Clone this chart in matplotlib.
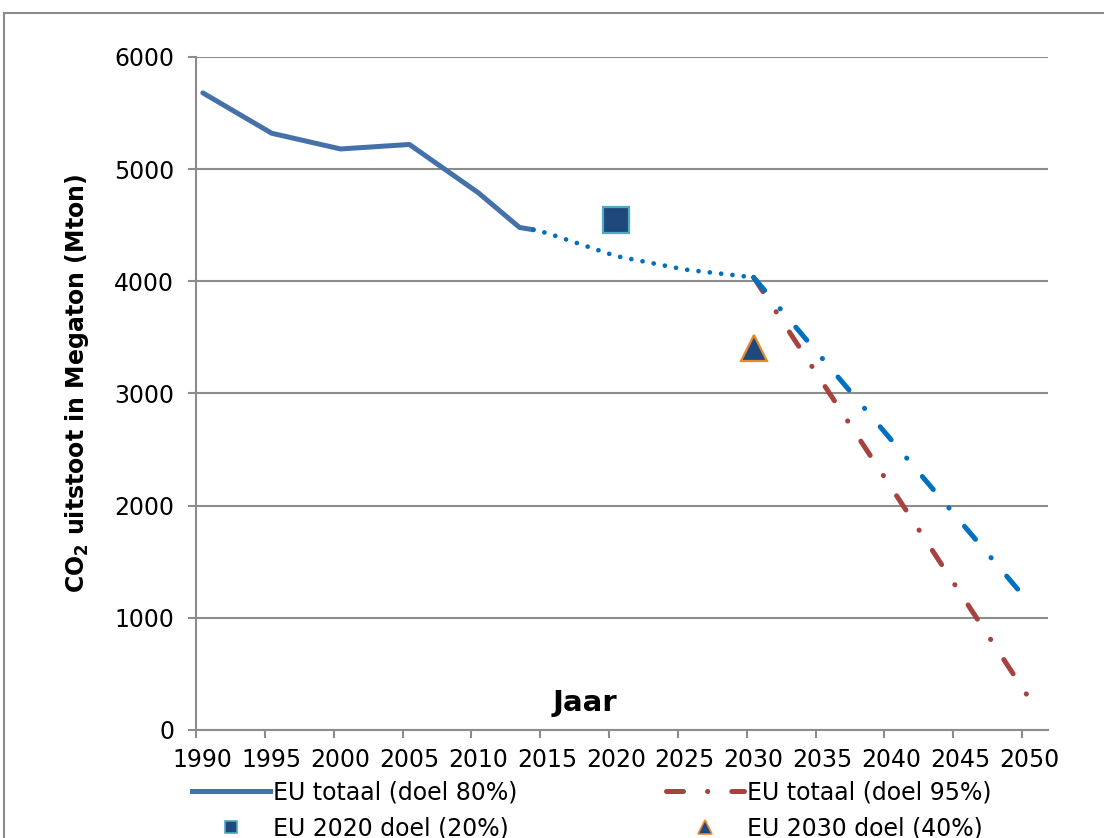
import matplotlib
matplotlib.use('Agg')
import matplotlib.pyplot as plt
from matplotlib.lines import Line2D
from matplotlib.patches import Rectangle

# historische uitstoot (Mton CO2)
years_hist = [1990, 1995, 2000, 2005, 2010, 2013, 2014]
co2_hist = [5680, 5320, 5180, 5220, 4790, 4480, 4460]

# verwachting tot 2030
years_proj = [2014, 2015, 2020, 2025, 2030]
co2_proj = [4460, 4430, 4225, 4105, 4035]

# paden naar 2050
years_2050 = [2030, 2050]
co2_80 = [4035, 1136]
co2_95 = [4035, 284]

# doelen
year_2020 = [2020]
target_2020 = [4544]
year_2030 = [2030]
target_2030 = [3408]

xticks = list(range(1990, 2051, 5))
yticks = [0, 1000, 2000, 3000, 4000, 5000, 6000]

SOLID_BLUE = '#4571AA'
DOT_BLUE = '#0070C0'
RED = '#A8423F'
NAVY = '#1F497D'
TEAL = '#4BACC6'
ORANGE = '#E8892F'
GRID = '#8C8C8C'

dashdot = (0, (3.4, 4.8, 0.05, 4.8))

fig = plt.figure(figsize=(11.04, 8.38), dpi=100)
ax = fig.add_axes([0.1775, 0.1289, 0.7717, 0.8031])

ax.plot(years_hist, co2_hist, color=SOLID_BLUE, lw=3.6, solid_capstyle='round',
        solid_joinstyle='round', zorder=3)
ax.plot(years_proj, co2_proj, color=DOT_BLUE, lw=3.4, ls=(0, (0.01, 2.4)),
        dash_capstyle='round', zorder=3)
ax.plot(years_2050, co2_95, color=RED, lw=3.6, ls=dashdot,
        dash_capstyle='round', zorder=3)
ax.plot(years_2050, co2_80, color=DOT_BLUE, lw=3.6, ls=dashdot,
        dash_capstyle='round', zorder=3)
ax.plot(year_2020, target_2020, marker='s', ls='none', ms=19, mfc=NAVY,
        mec=TEAL, mew=1.6, zorder=4)
ax.plot(year_2030, target_2030, marker='^', ls='none', ms=19, mfc=NAVY,
        mec=ORANGE, mew=1.6, zorder=4)

ax.set_xlim(1989.5, 2051.37)
ax.set_ylim(0, 6000)
ax.set_xticks(xticks)
ax.set_xticks([x - 0.5 for x in xticks], minor=True)
ax.set_yticks(yticks)
ax.tick_params(axis='x', which='major', length=0, labelsize=17, pad=13)
ax.tick_params(axis='x', which='minor', length=5.8, width=1.5, color=GRID)
ax.tick_params(axis='y', length=5.8, width=1.5, color=GRID, labelsize=17, pad=10)

ax.grid(axis='y', color=GRID, lw=1.5)
ax.set_axisbelow(True)
for side in ['top', 'right']:
    ax.spines[side].set_visible(False)
for side in ['left', 'bottom']:
    ax.spines[side].set_color(GRID)
    ax.spines[side].set_linewidth(1.5)

fig.text(77 / 1104, 1 - 383 / 838, r'CO$_\mathbf{2}$ uitstoot in Megaton (Mton)',
         rotation=90, ha='center', va='center', fontsize=17, fontweight='bold')
fig.text(585 / 1104, 1 - 703 / 838, 'Jaar', ha='center', va='center',
         fontsize=21, fontweight='bold')

# rand om de grafiek
fig.patches.append(Rectangle((4 / 1104, -0.1), 1.2, 1.1 - 13 / 838, fill=False,
                             edgecolor=GRID, lw=1.5, transform=fig.transFigure))

handles = [
    Line2D([], [], color=SOLID_BLUE, lw=3.6),
    Line2D([], [], marker='s', ls='none', ms=9, mfc=NAVY, mec=TEAL, mew=1.2),
    Line2D([], [], color=RED, lw=3.6, ls=dashdot, dash_capstyle='round'),
    Line2D([], [], marker='^', ls='none', ms=10, mfc=NAVY, mec=ORANGE, mew=1.2),
]
labels = ['EU totaal (doel 80%)', 'EU 2020 doel (20%)',
          'EU totaal (doel 95%)', 'EU 2030 doel (40%)']
fig.legend(handles, labels, ncol=2, loc='upper left',
           bbox_to_anchor=(192 / 1104, 1 - 780 / 838), frameon=False,
           fontsize=17, handlelength=3.3, handletextpad=0.15,
           columnspacing=6.26, labelspacing=0.53, borderaxespad=0, borderpad=0)

fig.savefig('out.png', dpi=100)
